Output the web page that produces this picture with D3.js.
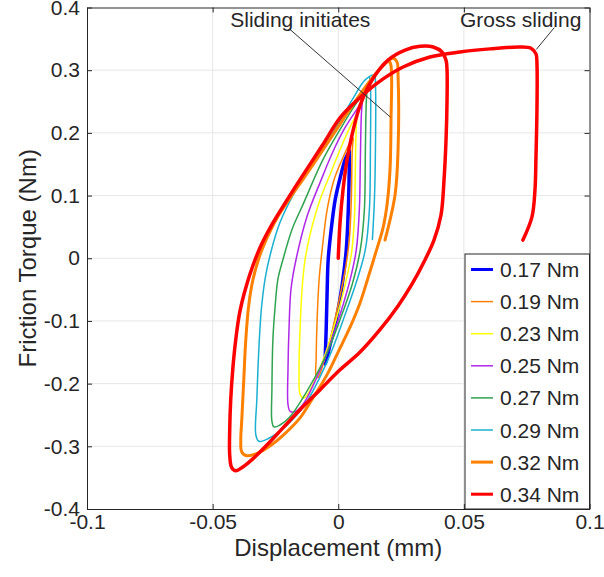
<!DOCTYPE html>
<html>
<head>
<meta charset="utf-8">
<script src="https://cdnjs.cloudflare.com/ajax/libs/d3/7.8.5/d3.min.js"></script>
<style>
  body { margin: 0; background: #fff; }
  text { font-family: "Liberation Sans", Arial, sans-serif; fill: #262626; }
</style>
</head>
<body>
<svg id="chart"></svg>
<script>
// series labels (peak torque) and axis ticks
const seriesNames = ["0.17 Nm", "0.19 Nm", "0.23 Nm", "0.25 Nm", "0.27 Nm", "0.29 Nm", "0.32 Nm", "0.34 Nm"];
const xTicks = [-0.1, -0.05, 0, 0.05, 0.1];
const xTickLabels = ["-0.1", "-0.05", "0", "0.05", "0.1"];
const yTicks = [-0.4, -0.3, -0.2, -0.1, 0, 0.1, 0.2, 0.3, 0.4];
const yTickLabels = ["-0.4", "-0.3", "-0.2", "-0.1", "0", "0.1", "0.2", "0.3", "0.4"];

// hysteresis loops, [displacement mm, torque Nm]
const loop017 = [[0.0044,0.171],[0.0044,0.150],[0.0040,0.078],[0.0032,0.014],[0.0016,-0.041],[-0.0008,-0.097],[-0.0032,-0.137],[-0.0052,-0.169],
  [-0.0052,-0.161],[-0.0048,-0.113],[-0.0044,-0.049],[-0.0040,-0.002],[-0.0028,0.046],[-0.0012,0.094],[0.0008,0.129],[0.0028,0.158],[0.0044,0.171]];
const loop019 = [[0.0060,0.191],[0.0056,0.174],[0.0052,0.094],[0.0044,0.030],[0.0028,-0.018],[0.0000,-0.073],[-0.0032,-0.129],[-0.0064,-0.174],[-0.0080,-0.190],[-0.0088,-0.188],
  [-0.0088,-0.161],[-0.0084,-0.097],[-0.0076,-0.033],[-0.0064,0.014],[-0.0044,0.078],[-0.0016,0.126],[0.0016,0.158],[0.0044,0.182],[0.0060,0.191]];
const loop023 = [[0.0076,0.231],[0.0072,0.214],[0.0068,0.142],[0.0064,0.062],[0.0052,0.006],[0.0028,-0.041],[-0.0008,-0.097],[-0.0052,-0.153],[-0.0092,-0.193],[-0.0124,-0.218],[-0.0140,-0.223],[-0.0152,-0.217],
  [-0.0156,-0.177],[-0.0152,-0.113],[-0.0144,-0.049],[-0.0132,-0.002],[-0.0112,0.038],[-0.0072,0.094],[-0.0032,0.134],[0.0008,0.174],[0.0048,0.210],[0.0076,0.231]];
const loop025 = [[0.0096,0.250],[0.0092,0.229],[0.0088,0.158],[0.0084,0.078],[0.0072,0.014],[0.0048,-0.033],[0.0008,-0.089],[-0.0040,-0.145],[-0.0092,-0.196],[-0.0140,-0.233],[-0.0172,-0.245],[-0.0192,-0.244],[-0.0200,-0.233],
  [-0.0200,-0.177],[-0.0196,-0.113],[-0.0188,-0.049],[-0.0168,-0.002],[-0.0124,0.067],[-0.0072,0.121],[-0.0020,0.171],[0.0028,0.209],[0.0068,0.234],[0.0096,0.250]];
const loop027 = [[0.0116,0.271],[0.0112,0.253],[0.0108,0.174],[0.0104,0.078],[0.0088,0.014],[0.0056,-0.041],[0.0008,-0.097],[-0.0052,-0.158],[-0.0132,-0.217],[-0.0192,-0.253],[-0.0232,-0.266],[-0.0256,-0.269],[-0.0264,-0.260],
  [-0.0264,-0.209],[-0.0260,-0.129],[-0.0252,-0.081],[-0.0240,-0.033],[-0.0220,-0.002],[-0.0184,0.046],[-0.0140,0.086],[-0.0060,0.158],[0.0008,0.206],[0.0068,0.245],[0.0116,0.271]];
const loop029 = [[0.0124,0.290],[0.0128,0.277],[0.0128,0.174],[0.0124,0.078],[0.0108,0.014],[0.0076,-0.033],[0.0028,-0.089],[-0.0040,-0.161],[-0.0132,-0.233],[-0.0212,-0.269],[-0.0280,-0.288],[-0.0316,-0.292],[-0.0328,-0.282],
  [-0.0324,-0.225],[-0.0316,-0.145],[-0.0306,-0.081],[-0.0290,-0.030],[-0.0268,0.010],[-0.0232,0.057],[-0.0160,0.115],[-0.0084,0.163],[-0.0012,0.206],[0.0056,0.253],[0.0108,0.285],[0.0144,0.292],
  [0.0148,0.277],[0.0148,0.174],[0.0144,0.094],[0.0136,0.030]];
const loop032 = [[0.0202,0.316],[0.0210,0.307],[0.0210,0.220],[0.0206,0.141],[0.0194,0.085],[0.0178,0.048],[0.0150,0.010],[0.0118,-0.032],[0.0087,-0.071],[0.0047,-0.110],[-0.0001,-0.150],[-0.0045,-0.186],[-0.0101,-0.223],[-0.0153,-0.255],[-0.0205,-0.277],[-0.0260,-0.296],[-0.0320,-0.311],[-0.0364,-0.315],[-0.0384,-0.309],
  [-0.0388,-0.290],[-0.0384,-0.258],[-0.0376,-0.194],[-0.0368,-0.130],[-0.0356,-0.074],[-0.0340,-0.035],[-0.0316,0.000],[-0.0284,0.032],[-0.0244,0.064],[-0.0192,0.096],[-0.0133,0.130],[-0.0061,0.173],[0.0007,0.214],[0.0070,0.252],[0.0134,0.287],[0.0186,0.310],[0.0218,0.319],[0.0234,0.313],
  [0.0238,0.292],[0.0238,0.173],[0.0226,0.101],[0.0186,0.029]];
const loop034 = [[0.0000,0.000],[0.0007,0.056],[0.0019,0.109],[0.0035,0.157],[0.0055,0.197],[0.0087,0.244],[0.0134,0.284],[0.0198,0.316],[0.0266,0.332],[0.0326,0.338],[0.0378,0.337],[0.0413,0.329],[0.0429,0.316],[0.0433,0.300],
  [0.0433,0.252],[0.0429,0.189],[0.0421,0.125],[0.0409,0.069],[0.0381,0.029],[0.0341,-0.006],[0.0294,-0.041],[0.0238,-0.076],[0.0166,-0.114],[0.0086,-0.150],[0.0007,-0.178],[-0.0073,-0.210],[-0.0153,-0.242],[-0.0221,-0.271],[-0.0284,-0.298],[-0.0340,-0.320],[-0.0380,-0.333],[-0.0408,-0.339],[-0.0424,-0.334],[-0.0432,-0.314],
  [-0.0432,-0.274],[-0.0428,-0.226],[-0.0420,-0.178],[-0.0408,-0.130],[-0.0392,-0.086],[-0.0368,-0.047],[-0.0340,-0.012],[-0.0308,0.020],[-0.0268,0.051],[-0.0221,0.082],[-0.0153,0.125],[-0.0065,0.179],[0.0007,0.224],[0.0075,0.252],[0.0154,0.279],[0.0258,0.305],[0.0365,0.321],
  [0.0484,0.329],[0.0604,0.334],[0.0723,0.337],[0.0767,0.335],[0.0787,0.326],[0.0791,0.308],[0.0791,0.241],[0.0787,0.162],[0.0783,0.109],[0.0771,0.066],[0.0735,0.029]];
const loops = [loop017, loop019, loop023, loop025, loop027, loop029, loop032, loop034];

// callouts in data units: label anchor, leader line start and end
const callouts = [
  { text: "Sliding initiates", at: [-0.0151, 0.369], from: [-0.0192, 0.365], to: [0.0208, 0.225] },
  { text: "Gross sliding", at: [0.0726, 0.369], from: [0.0860, 0.368], to: [0.0788, 0.333] }
];

const seriesColors = ["#0000ff", "#ff8000", "#ffff00", "#b027e8", "#2fa34f", "#1bb0d2", "#ff8000", "#ff0000"];
const seriesWidths = [3.5, 1.5, 1.5, 1.5, 1.5, 1.5, 3, 3.5];

function drawChart() {
  const width = 604, height = 577;
  const margin = { top: 7.5, right: 14.5, bottom: 68, left: 87 };
  const w = width - margin.left - margin.right;
  const h = height - margin.top - margin.bottom;

  const svg = d3.select("#chart").attr("width", width).attr("height", height);
  const g = svg.append("g").attr("transform", `translate(${margin.left},${margin.top})`);

  const x = d3.scaleLinear().domain([-0.1, 0.1]).range([0, w]);
  const y = d3.scaleLinear().domain([-0.4, 0.4]).range([h, 0]);

  // grid
  g.append("g").selectAll("line").data(xTicks.slice(1, -1)).enter().append("line")
    .attr("x1", d => x(d)).attr("x2", d => x(d)).attr("y1", 0).attr("y2", h)
    .attr("stroke", "#e6e6e6").attr("stroke-width", 1);
  g.append("g").selectAll("line").data(yTicks.slice(1, -1)).enter().append("line")
    .attr("y1", d => y(d)).attr("y2", d => y(d)).attr("x1", 0).attr("x2", w)
    .attr("stroke", "#e6e6e6").attr("stroke-width", 1);

  // loops
  const line = d3.line()
    .x(d => x(d[0]))
    .y(d => y(d[1]))
    .curve(d3.curveCatmullRom.alpha(0.5));

  g.append("g").selectAll("path").data(loops).enter().append("path")
    .attr("d", d => line(d))
    .attr("fill", "none")
    .attr("stroke", (d, i) => seriesColors[i])
    .attr("stroke-width", (d, i) => seriesWidths[i])
    .attr("stroke-linejoin", "round")
    .attr("stroke-linecap", "round");

  // axes, ticks pointing inward on all four sides
  const bottom = g.append("g").attr("transform", `translate(0,${h})`)
    .call(d3.axisBottom(x).tickValues(xTicks).tickSize(-5).tickSizeOuter(0).tickPadding(5)
      .tickFormat((d, i) => xTickLabels[i]));
  const left = g.append("g")
    .call(d3.axisLeft(y).tickValues(yTicks).tickSize(-5).tickSizeOuter(0).tickPadding(7)
      .tickFormat((d, i) => yTickLabels[i]));
  const top = g.append("g")
    .call(d3.axisTop(x).tickValues(xTicks).tickSize(-5).tickSizeOuter(0).tickFormat(""));
  const right = g.append("g").attr("transform", `translate(${w},0)`)
    .call(d3.axisRight(y).tickValues(yTicks).tickSize(-5).tickSizeOuter(0).tickFormat(""));

  [bottom, left, top, right].forEach(a => {
    a.selectAll("path, line").attr("stroke", "#262626").attr("stroke-width", 1);
    a.selectAll("text").style("font-size", "21px").attr("fill", "#262626")
      .style("font-family", '"Liberation Sans", Arial, sans-serif');
  });

  // axis titles
  g.append("text")
    .attr("x", w / 2).attr("y", h + 47)
    .attr("text-anchor", "middle")
    .style("font-size", "24px")
    .text("Displacement (mm)");
  g.append("text")
    .attr("transform", `translate(${-51},${h / 2}) rotate(-90)`)
    .attr("text-anchor", "middle")
    .style("font-size", "24px")
    .text("Friction Torque (Nm)");

  // callouts
  callouts.forEach(c => {
    g.append("line")
      .attr("x1", x(c.from[0])).attr("y1", y(c.from[1]))
      .attr("x2", x(c.to[0])).attr("y2", y(c.to[1]))
      .attr("stroke", "#333").attr("stroke-width", 1);
    g.append("text")
      .attr("x", x(c.at[0])).attr("y", y(c.at[1]))
      .attr("text-anchor", "middle")
      .style("font-size", "21px")
      .text(c.text);
  });

  // legend, lower right corner
  const legW = 124.5, legH = 255, rowH = 32.1;
  const leg = g.append("g").attr("transform", `translate(${w - legW},${h - legH})`);
  leg.append("rect")
    .attr("width", legW).attr("height", legH)
    .attr("fill", "#fff").attr("stroke", "#262626").attr("stroke-width", 1);
  const rows = leg.selectAll("g").data(seriesNames).enter().append("g")
    .attr("transform", (d, i) => `translate(0,${15.5 + i * rowH})`);
  rows.append("line")
    .attr("x1", 6).attr("x2", 28)
    .attr("stroke", (d, i) => seriesColors[i])
    .attr("stroke-width", (d, i) => Math.min(seriesWidths[i], 3));
  rows.append("text")
    .attr("x", 35).attr("dy", "0.36em")
    .style("font-size", "21px")
    .text(d => d);
}

drawChart();
</script>
</body>
</html>
